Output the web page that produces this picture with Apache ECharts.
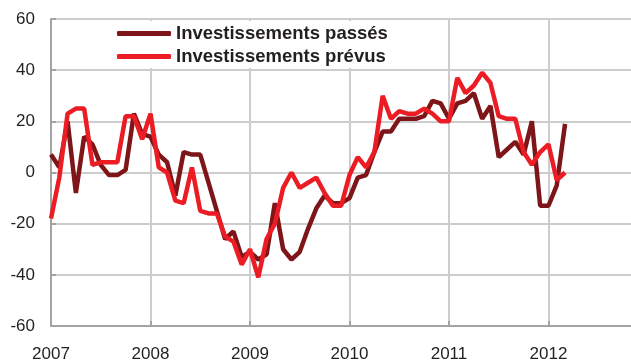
<!DOCTYPE html>
<html>
<head>
<meta charset="utf-8">
<script src="https://cdn.jsdelivr.net/npm/echarts@6/dist/echarts.min.js"></script>
<style>
  html, body { margin: 0; padding: 0; background: #ffffff; overflow: hidden; }
  /* the plot runs on past the right edge of the page, as the timeline continues */
  #chart { width: 645px; height: 363px; }
</style>
</head>
<body>
<div id="chart"></div>
<script>
// Monthly survey balances, January 2007 onward
const startYear = 2007;
const yearTicks = [2007, 2008, 2009, 2010, 2011, 2012];
const seriesNames = ['Investissements passés', 'Investissements prévus'];

const investPasses = [
  7, 2, 20, -8, 14, 11, 3, -1, -1, 1, 23, 15,
  14, 7, 4, -9, 8, 7, 7, -4, -15, -26, -23, -33,
  -31, -34, -32, -12, -30, -34, -31, -22, -14, -9, -12, -12,
  -10, -2, -1, 8, 16, 16, 21, 21, 21, 22, 28, 27,
  21, 27, 28, 31, 21, 26, 6, 9, 12, 7, 20, -13,
  -13, -5, 19
];

const investPrevus = [
  -18, -2, 23, 25, 25, 3, 4, 4, 4, 22, 22, 13,
  23, 2, 0, -11, -12, 2, -15, -16, -16, -25, -27, -36,
  -30, -41, -26, -20, -6, 0, -6, -4, -2, -8, -13, -13,
  -1, 6, 2, 8, 30, 21, 24, 23, 23, 25, 23, 20,
  20, 37, 31, 34, 39, 35, 22, 21, 21, 8, 3, 8,
  11, -3, 0
];

// month index -> fractional year on the value axis
function toPairs(values) {
  return values.map((v, i) => [startYear + i / 12, v]);
}

const textColor = '#231f20';
const gridColor = '#cdcdcd';
const axisColor = '#a3a3a3';
const font = 'Liberation Sans, Arial, sans-serif';

const chart = echarts.init(document.getElementById('chart'), null, { renderer: 'canvas' });

chart.setOption({
  animation: false,
  backgroundColor: '#ffffff',
  grid: { left: 51, right: 0, top: 19, bottom: 37, containLabel: false },
  legend: {
    orient: 'vertical',
    left: 110,
    top: 21,
    padding: [3, 21, 2, 7],
    itemGap: 4,
    itemWidth: 54,
    itemHeight: 5,
    icon: 'roundRect',
    backgroundColor: '#ffffff',
    data: seriesNames,
    textStyle: {
      color: textColor,
      fontFamily: font,
      fontWeight: 'bold',
      fontSize: 18.5,
      lineHeight: 18
    }
  },
  xAxis: {
    type: 'value',
    min: startYear,
    max: 2012.94,
    interval: 1,
    axisLine: { show: true, onZero: false, lineStyle: { color: axisColor, width: 2 } },
    axisTick: { show: true, inside: true, length: 5, lineStyle: { color: axisColor, width: 2 } },
    splitLine: { show: true, lineStyle: { color: gridColor, width: 2 } },
    axisLabel: {
      color: textColor,
      fontFamily: font,
      fontSize: 17,
      margin: 20,
      formatter: v => (yearTicks.indexOf(Math.round(v * 1000) / 1000) >= 0 ? String(v) : '')
    }
  },
  yAxis: {
    type: 'value',
    min: -60,
    max: 60,
    interval: 20,
    axisLine: { show: true, lineStyle: { color: axisColor, width: 2 } },
    axisTick: { show: true, inside: true, length: 5, lineStyle: { color: axisColor, width: 2 } },
    splitLine: { show: true, lineStyle: { color: gridColor, width: 2 } },
    axisLabel: {
      color: textColor,
      fontFamily: font,
      fontSize: 17,
      margin: 16
    }
  },
  series: [
    {
      name: seriesNames[0],
      type: 'line',
      symbol: 'none',
      data: toPairs(investPasses),
      itemStyle: { color: '#7e1519' },
      lineStyle: { color: '#7e1519', width: 4.5 },
      z: 3
    },
    {
      name: seriesNames[1],
      type: 'line',
      symbol: 'none',
      data: toPairs(investPrevus),
      itemStyle: { color: '#ec1c24' },
      lineStyle: { color: '#ec1c24', width: 4.5 },
      z: 4
    }
  ]
});
</script>
</body>
</html>
